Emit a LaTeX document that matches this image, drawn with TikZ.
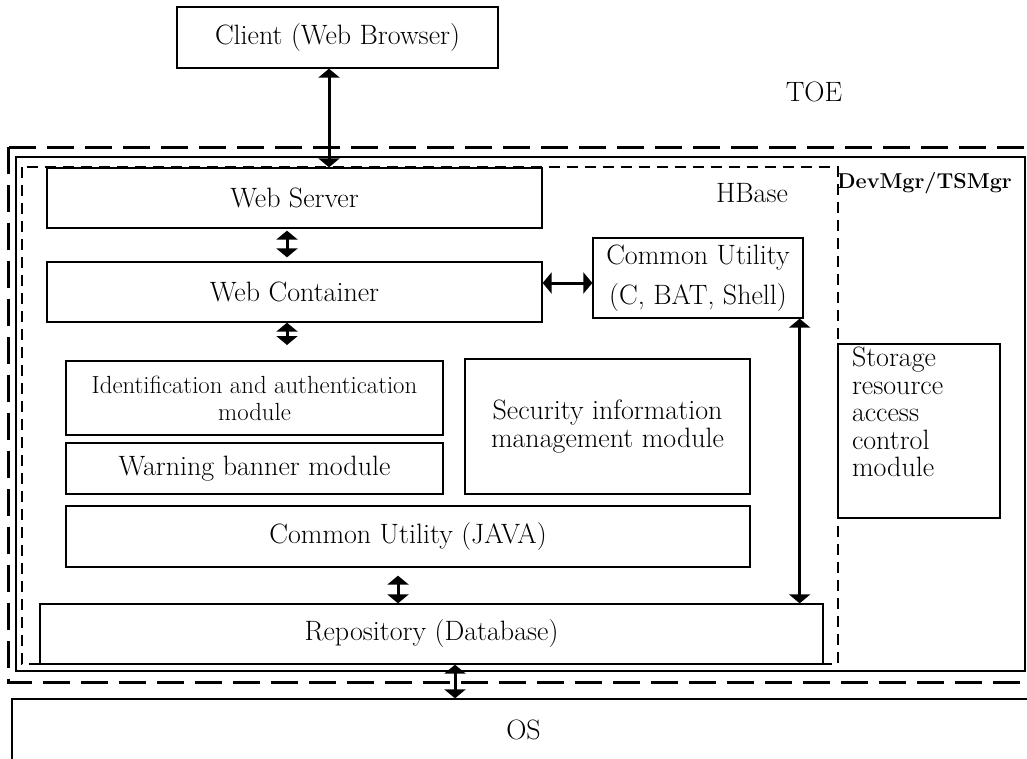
\documentclass[tikz,border=0pt]{standalone}
\usepackage{fontspec}
\usetikzlibrary{arrows.meta, positioning}

\begin{document}
\begin{tikzpicture} [x=1pt, y=-1pt,
            box/.style = {draw, line width=1.3pt, inner sep=0pt, align=center,
                font=\fontsize{28}{28}\selectfont},
            small/.style = {font=\fontsize{24.8}{27}\selectfont},
            tag/.style = {font=\fontsize{28}{28}\selectfont},
            link/.style = {{Triangle[width=21pt,length=9pt]}-{Triangle[width=21pt,length=9pt]},
                line width=3pt},
            toe/.style = {draw, line width=3pt, dash pattern=on 27pt off 11pt},
            hbase/.style = {draw, line width=2.6pt, dash pattern=on 11pt off 7pt}]

        \clip (0,0) rectangle (1027,758);

        % Boundaries
        \draw [toe] (8,147) rectangle (1045,682);
        \draw [line width=2.7pt] (16,157) rectangle (1025,671);

        % Labels
        \node (toetag) [tag] at (814,92) {TOE};
        \node (hbasetag) [tag] at (752,193) {HBase};
        \node (devtag) [anchor=west, inner sep=0pt,
            font=\fontsize{21.5}{25}\selectfont\bfseries] at (837,183) {DevMgr/TSMgr};

        % Client
        \node (client) [box, minimum width=321pt, minimum height=61pt]
            at (337.5,37.5) {Client (Web Browser)};

        % Web Server
        \node (webserver) [box, minimum width=495pt, minimum height=60pt]
            at (294.5,198) {Web Server};

        % Web Container
        \node (webcontainer) [box, minimum width=495pt, minimum height=60pt]
            at (294.5,292) {Web Container};

        % Common Utility (C)
        \node (utilc) [box, minimum width=210pt, minimum height=80pt]
            at (698,278) {Common Utility\\[12pt](C, BAT, Shell)};

        % Modules
        \node (idauth) [box, small, minimum width=377pt, minimum height=74pt]
            at (254.5,398) {Identification and authentication\\module};
        \node (warning) [box, minimum width=377pt, minimum height=51pt]
            at (254.5,468.5) {Warning banner module};
        \node (secinfo) [box, minimum width=285pt, minimum height=135pt]
            at (607.5,426.5) {Security information\\management module};

        % Common Utility (JAVA)
        \node (utiljava) [box, minimum width=684pt, minimum height=61pt]
            at (408,536.5) {Common Utility (JAVA)};

        % Repository
        \node (repo) [box, minimum width=783pt, minimum height=60pt]
            at (431.5,634) {Repository (Database)};

        % Storage resource access control
        \node (storage) [box, minimum width=162pt, minimum height=174pt, inner xsep=14pt,
            font=\fontsize{28}{27.5}\selectfont]
            at (919,431) {\parbox[c][168pt][t]{134pt}{Storage\\resource\\access\\control\\module}};

        % OS
        \node (os) [box, minimum width=1023pt, minimum height=62pt]
            at (523.5,730) {OS};

        % HBase boundary
        \draw [hbase] (22,167) rectangle (838,664);

        \coordinate (modtop) at (287,345);

        % Arrows
        \draw [link] ([xshift=-8.5pt]client.south) -- ([xshift=-8.5pt]client.south |- webserver.north);
        \draw [link, shorten <=2pt, shorten >=4pt] ([xshift=-7.5pt]webserver.south)
            -- ([xshift=-7.5pt]webserver.south |- webcontainer.north);
        \draw [link] (webcontainer.south -| modtop) -- (modtop);
        \draw [link] ([yshift=-5pt]utilc.west) -- ([yshift=-5pt]utilc.west -| webcontainer.east);
        \draw [link] ([xshift=-4pt]utilc.south east) -- ([xshift=-4pt]utilc.south east |- repo.north);
        \draw [link, shorten <=8pt] (utiljava.south -| 398,0) -- (repo.north -| 398,0);
        \draw [link] (repo.south -| 455,0) -- (os.north -| 455,0);
\end{tikzpicture}
\end{document}
